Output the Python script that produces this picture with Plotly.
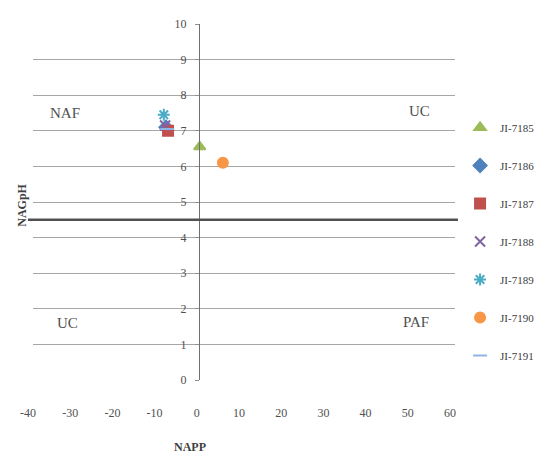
import plotly.graph_objects as go

# Data
samples = ["JI-7185", "JI-7186", "JI-7187", "JI-7188", "JI-7189", "JI-7190", "JI-7191"]
napp = [-0.5, -8.5, -8.0, -8.7, -9.0, 5.0, -8.2]
nagph = [6.55, 7.1, 7.0, 7.15, 7.45, 6.1, 7.05]
colors = ["#9BBB59", "#4F81BD", "#C0504D", "#8064A2", "#4BACC6", "#F79646", "#8EB4E3"]
symbols = ["triangle-up", "diamond", "square", "x-thin-open", "asterisk-open", "circle", "line-ew-open"]

x_ticks = [-40, -30, -20, -10, 0, 10, 20, 30, 40, 50, 60]
x_tick_labels = ["-40", "-30", "-20", "-10", "0", "10", "20", "30", "40", "50", "60"]
y_ticks = list(range(0, 11))

threshold_y = 4.5
quad_labels = ["NAF", "UC", "UC", "PAF"]
quad_x = [-32.5, 51.7, -31.8, 50.7]
quad_y = [7.5, 7.55, 1.6, 1.62]

serif = "Liberation Serif, Times New Roman, serif"

fig = go.Figure()
for i, name in enumerate(samples):
    fig.add_trace(go.Scatter(
        x=[napp[i]], y=[nagph[i]], mode="markers", name=name,
        legendgroup=name,
        marker=dict(color=colors[i], symbol=symbols[i], size=10,
                    line=dict(color=colors[i], width=2)),
    ))

fig.add_shape(type="line", xref="paper", yref="y", x0=-0.012, x1=1.007,
              y0=threshold_y, y1=threshold_y, line=dict(color="#505050", width=2.5))

for t, qx, qy in zip(quad_labels, quad_x, quad_y):
    fig.add_annotation(x=qx, y=qy, text=t, showarrow=False,
                       xanchor="center", yanchor="middle",
                       font=dict(family=serif, size=15, color="#505050"))

fig.add_annotation(xref="paper", yref="paper", x=0.372, y=-0.188, text="<b>NAPP</b>",
                   xanchor="center", yanchor="middle", showarrow=False,
                   font=dict(family=serif, size=12, color="#404040"))
fig.add_annotation(xref="paper", yref="paper", x=-0.028, y=0.49, text="<b>NAGpH</b>",
                   xanchor="center", yanchor="middle", textangle=-90, showarrow=False,
                   font=dict(family=serif, size=12, color="#404040"))

fig.update_layout(
    width=534, height=447,
    margin=dict(l=25, r=87, t=16, b=75, autoexpand=False),
    paper_bgcolor="white", plot_bgcolor="white",
    showlegend=True,
    legend=dict(x=1.012, y=0.75, xanchor="left", yanchor="top",
                font=dict(family=serif, size=11, color="#404040"),
                tracegroupgap=19, bgcolor="rgba(0,0,0,0)"),
    xaxis=dict(range=[-40, 60], tickvals=x_ticks, ticktext=x_tick_labels,
               showgrid=False, zeroline=False,
               showline=False, ticks="", ticklabelstandoff=24, ticklabelshift=-5,
               tickfont=dict(family=serif, size=12, color="#505050")),
    yaxis=dict(range=[0, 10], tickvals=y_ticks, showgrid=True, gridcolor="#a6a6a6",
               gridwidth=1, zeroline=False, anchor="free", position=0.393,
               showline=True, linecolor="#707070", linewidth=1,
               ticks="outside", ticklen=4, tickcolor="#909090", ticklabelstandoff=6,
               tickfont=dict(family=serif, size=12, color="#505050")),
)

fig.write_html("out.html")
